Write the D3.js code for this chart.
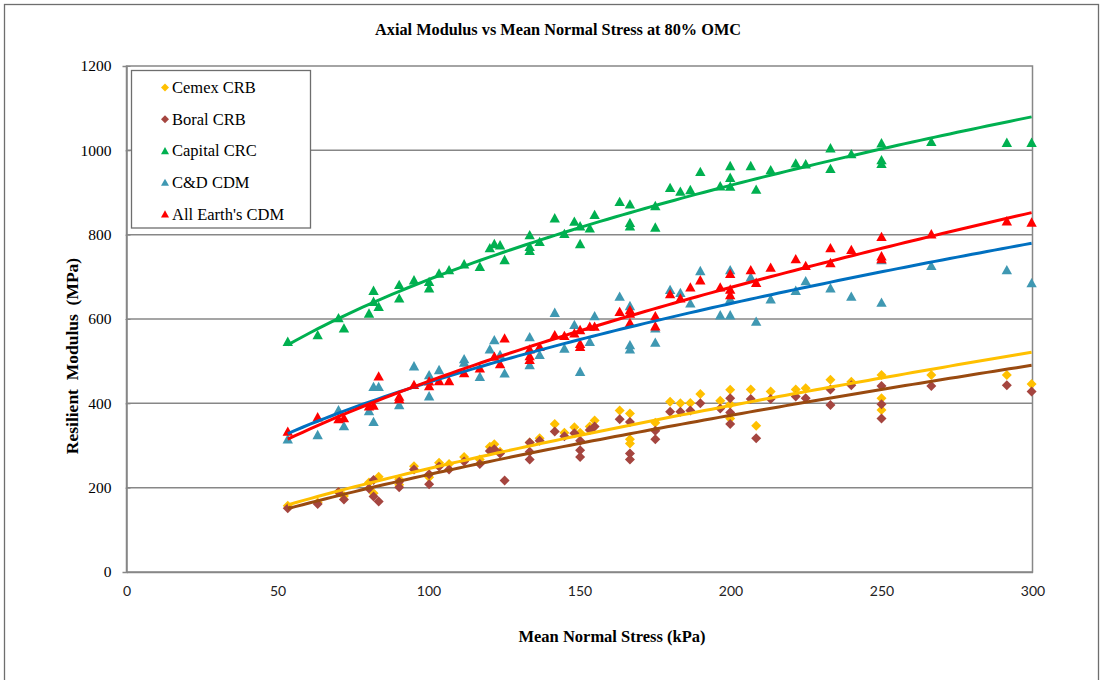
<!DOCTYPE html>
<html>
<head>
<meta charset="utf-8">
<script src="https://cdn.jsdelivr.net/npm/d3@7"></script>
<style>
  html, body { margin: 0; padding: 0; background: #ffffff; }
  svg { display: block; }
</style>
</head>
<body>
<svg id="chart" width="1104" height="680"></svg>
<script>
// ---- data: mean normal stress (kPa) and resilient modulus (MPa) per material ----
const cemexStress  = [53.4, 63.3, 70.2, 72, 80.3, 81.8, 83.5, 90.3, 90.3, 95.2, 100.2, 103.5, 106.8, 111.8, 117, 120.3, 121.8, 123.7, 133.5, 136.8, 141.8, 145, 148.3, 150.2, 153.4, 155, 163.3, 166.7, 166.7, 166.7, 175.1, 180, 183.4, 186.7, 190, 196.6, 199.9, 199.9, 199.9, 206.7, 208.5, 213.3, 221.6, 224.9, 233.1, 240, 250, 250, 250, 266.5, 291.5, 299.7];
const cemexModulus = [157, 165, 190, 180, 212, 187, 226, 220, 207, 251, 225, 259, 256, 273, 267, 297, 303, 285, 307, 317, 351, 330, 343, 330, 345, 359, 383, 376, 315, 305, 354, 404, 400, 401, 422, 406, 432, 398, 364, 433, 347, 428, 433, 436, 456, 451, 467, 412, 384, 467, 467, 446];

const boralStress  = [53.4, 63.3, 70.2, 72, 80.3, 81.8, 81.8, 83.5, 90.3, 90.3, 95.2, 100.2, 100.2, 103.5, 106.8, 111.8, 117, 120.3, 121.8, 123.7, 125.2, 133.5, 133.5, 133.5, 136.8, 141.8, 145, 148.3, 150.2, 150.2, 150.2, 153.4, 155, 163.3, 166.7, 166.7, 166.7, 175.1, 175.1, 180, 183.4, 186.7, 190, 196.6, 199.9, 199.9, 199.9, 206.7, 208.5, 213.3, 221.6, 224.9, 233.1, 233.1, 240, 250, 250, 250, 266.5, 291.5, 299.7];
const boralModulus = [151, 161, 190, 172, 198, 218, 179, 167, 214, 201, 243, 232, 208, 250, 243, 262, 256, 287, 291, 281, 217, 307, 285, 267, 311, 333, 322, 329, 311, 289, 273, 337, 345, 362, 356, 281, 267, 335, 315, 380, 380, 383, 400, 388, 412, 378, 351, 410, 317, 410, 416, 412, 433, 396, 443, 441, 398, 364, 441, 443, 428];

const capitalStress  = [53.4, 63.3, 70.2, 72, 80.3, 81.8, 81.8, 83.5, 90.3, 90.3, 95.2, 100.2, 100.2, 103.5, 106.8, 111.8, 117, 120.3, 121.8, 123.7, 125.2, 133.5, 133.5, 133.5, 136.8, 141.8, 145, 148.3, 150.2, 150.2, 153.4, 155, 163.3, 166.7, 166.7, 166.7, 175.1, 175.1, 180, 183.4, 186.7, 190, 196.6, 199.9, 199.9, 199.9, 206.7, 208.5, 213.3, 221.6, 224.9, 233.1, 233.1, 240, 250, 250, 250, 266.5, 291.5, 299.7];
const capitalModulus = [546, 562, 602, 578, 613, 667, 641, 629, 681, 649, 692, 688, 673, 708, 716, 730, 724, 768, 778, 775, 740, 799, 771, 762, 783, 839, 802, 831, 820, 778, 815, 847, 878, 872, 828, 820, 868, 817, 911, 902, 906, 949, 915, 963, 935, 914, 963, 907, 953, 969, 967, 1005, 956, 991, 1017, 977, 968, 1020, 1018, 1018];

const cdStress  = [53.4, 63.3, 70.2, 72, 80.3, 81.8, 81.8, 83.5, 90.3, 95.2, 100.2, 100.2, 103.5, 111.8, 111.8, 117, 120.3, 121.8, 123.7, 125.2, 133.5, 133.5, 136.8, 141.8, 145, 148.3, 150.2, 153.4, 155, 163.3, 166.7, 166.7, 166.7, 175.1, 175.1, 180, 183.4, 186.7, 190, 196.6, 199.9, 199.9, 199.9, 206.7, 208.5, 213.3, 221.6, 224.9, 233.1, 240, 250, 250, 266.5, 291.5, 299.7];
const cdModulus = [315, 325, 384, 346, 382, 356, 439, 439, 396, 488, 467, 417, 479, 505, 497, 463, 528, 550, 515, 471, 557, 491, 515, 615, 530, 586, 475, 546, 607, 653, 631, 538, 528, 578, 544, 669, 662, 637, 714, 609, 716, 647, 609, 699, 594, 647, 667, 690, 673, 653, 740, 639, 726, 716, 685];

const allEarthStress  = [53.4, 63.3, 70.2, 72, 80.3, 81.8, 83.5, 90.3, 90.3, 95.2, 100.2, 100.2, 103.5, 106.8, 111.8, 117, 121.8, 123.7, 125.2, 133.5, 133.5, 133.5, 136.8, 141.8, 145, 148.3, 150.2, 150.2, 150.2, 153.4, 155, 163.3, 166.7, 166.7, 166.7, 175.1, 175.1, 180, 183.4, 186.7, 190, 196.6, 199.9, 199.9, 199.9, 206.7, 208.5, 213.3, 221.6, 224.9, 233.1, 233.1, 240, 250, 250, 250, 266.5, 291.5, 299.7];
const allEarthModulus = [333, 367, 363, 365, 393, 395, 464, 416, 410, 444, 441, 452, 453, 453, 472, 483, 511, 493, 554, 528, 512, 503, 534, 562, 560, 566, 574, 541, 534, 582, 582, 617, 621, 591, 613, 607, 583, 659, 649, 675, 692, 675, 707, 670, 657, 716, 686, 722, 742, 726, 768, 733, 764, 795, 749, 742, 801, 832, 829];

const seriesNames   = ["Cemex CRB", "Boral CRB", "Capital CRC", "C&D CDM", "All Earth's CDM"];
const markerShapes  = ["diamond", "diamond", "triangle", "triangle", "triangle"];
const markerColors  = ["#FFC000", "#A5453F", "#00B050", "#3F98B2", "#FF0000"];
const trendColors   = ["#FFC000", "#994A10", "#00B050", "#0070C0", "#FF0000"];
const xTicks = [0, 50, 100, 150, 200, 250, 300];
const yTicks = [0, 200, 400, 600, 800, 1000, 1200];

const seriesStress  = [cemexStress, boralStress, capitalStress, cdStress, allEarthStress];
const seriesModulus = [cemexModulus, boralModulus, capitalModulus, cdModulus, allEarthModulus];

// ---- layout ----
const svg = d3.select("#chart");
const plot = { left: 126.5, right: 1032.5, top: 66, bottom: 572 };

const x = d3.scaleLinear().domain([0, 300]).range([plot.left, plot.right]);
const y = d3.scaleLinear().domain([0, 1200]).range([plot.bottom, plot.top]);

const serif = "'Liberation Serif', 'Times New Roman', serif";
const sans  = "Lato, 'Open Sans', sans-serif";
const gridColor = "#878787";

// outer frame
svg.append("rect")
  .attr("x", 4.5).attr("y", 4.5).attr("width", 1094).attr("height", 700)
  .attr("fill", "none").attr("stroke", "#6e6e6e").attr("stroke-width", 1.3);

// title
svg.append("text")
  .attr("x", 558).attr("y", 35)
  .attr("text-anchor", "middle")
  .attr("font-family", serif).attr("font-weight", "bold").attr("font-size", 16.3)
  .text("Axial Modulus vs Mean Normal Stress at 80% OMC");

// horizontal gridlines
svg.append("g").selectAll("line")
  .data(yTicks.filter(v => v > 0 && v < 1200))
  .join("line")
  .attr("x1", plot.left).attr("x2", plot.right)
  .attr("y1", d => y(d)).attr("y2", d => y(d))
  .attr("stroke", gridColor).attr("stroke-width", 1.5);

// plot-area border
svg.append("rect")
  .attr("x", plot.left).attr("y", plot.top)
  .attr("width", plot.right - plot.left).attr("height", plot.bottom - plot.top)
  .attr("fill", "none").attr("stroke", gridColor).attr("stroke-width", 1.5);

// y axis
const yAxis = d3.axisLeft(y).tickValues(yTicks).tickFormat(d3.format("d")).tickSize(4).tickPadding(11);
const gy = svg.append("g").attr("transform", `translate(${plot.left},0)`).call(yAxis);
gy.select(".domain").attr("stroke", gridColor).attr("stroke-width", 1.5);
gy.selectAll(".tick line").attr("stroke", gridColor).attr("x1", 4).attr("x2", -1);
gy.selectAll(".tick text")
  .attr("font-family", serif).attr("font-size", 15.5).attr("fill", "#000");

// x axis
const xAxis = d3.axisBottom(x).tickValues(xTicks).tickFormat(d3.format("d")).tickSize(0).tickPadding(14);
const gx = svg.append("g").attr("transform", `translate(0,${plot.bottom})`).call(xAxis);
gx.select(".domain").attr("stroke", gridColor).attr("stroke-width", 1.5);
gx.selectAll(".tick text")
  .attr("font-family", sans).attr("font-size", 14).attr("fill", "#222");

// axis titles
svg.append("text")
  .attr("x", 612).attr("y", 642)
  .attr("text-anchor", "middle")
  .attr("font-family", serif).attr("font-weight", "bold").attr("font-size", 16.5)
  .text("Mean Normal Stress (kPa)");

svg.append("text")
  .attr("transform", "translate(78,356) rotate(-90)")
  .attr("text-anchor", "middle")
  .attr("font-family", serif).attr("font-weight", "bold").attr("font-size", 17.5)
  .style("white-space", "pre")
  .text("Resilient  Modulus  (MPa)");

// marker path generators
function markerPath(shape, r) {
  if (shape === "diamond") {
    return `M0,${-r}L${r},0L0,${r}L${-r},0Z`;
  }
  const h = r * 1.8;
  return `M0,${-h * 0.55}L${r},${h * 0.45}L${-r},${h * 0.45}Z`;
}

// scatter points
const pointsLayer = svg.append("g");
seriesNames.forEach((name, i) => {
  const pts = seriesStress[i].map((s, k) => [s, seriesModulus[i][k]]);
  pointsLayer.append("g").selectAll("path")
    .data(pts)
    .join("path")
    .attr("d", markerPath(markerShapes[i], markerShapes[i] === "diamond" ? 5 : 5.2))
    .attr("transform", d => `translate(${x(d[0])},${y(d[1])})`)
    .attr("fill", markerColors[i]);
});

// power-law trendlines (least squares in log-log space), spanning each series' stress range
function powerFit(xs, ys) {
  const lx = xs.map(Math.log), ly = ys.map(Math.log);
  const mx = d3.mean(lx), my = d3.mean(ly);
  let sxy = 0, sxx = 0;
  lx.forEach((v, k) => { sxy += (v - mx) * (ly[k] - my); sxx += (v - mx) * (v - mx); });
  const b = sxy / sxx;
  const a = Math.exp(my - b * mx);
  return { a, b };
}

const line = d3.line().x(d => x(d[0])).y(d => y(d[1]));
const trendLayer = svg.append("g");
seriesNames.forEach((name, i) => {
  const { a, b } = powerFit(seriesStress[i], seriesModulus[i]);
  const [lo, hi] = d3.extent(seriesStress[i]);
  const samples = d3.range(0, 101).map(t => {
    const s = lo + (hi - lo) * t / 100;
    return [s, a * Math.pow(s, b)];
  });
  trendLayer.append("path")
    .datum(samples)
    .attr("d", line)
    .attr("fill", "none")
    .attr("stroke", trendColors[i])
    .attr("stroke-width", 3);
});

// legend
const legend = svg.append("g");
legend.append("rect")
  .attr("x", 131.5).attr("y", 70.5).attr("width", 179).attr("height", 157.5)
  .attr("fill", "#fff").attr("stroke", "#6e6e6e").attr("stroke-width", 1.3);

seriesNames.forEach((name, i) => {
  const cy = 87.5 + i * 31.7;
  legend.append("path")
    .attr("d", markerPath(markerShapes[i], 4))
    .attr("transform", `translate(165,${cy})`)
    .attr("fill", markerColors[i]);
  legend.append("text")
    .attr("x", 172).attr("y", cy + 5.5)
    .attr("font-family", serif).attr("font-size", 16.5).attr("fill", "#000")
    .text(name);
});
</script>
</body>
</html>
